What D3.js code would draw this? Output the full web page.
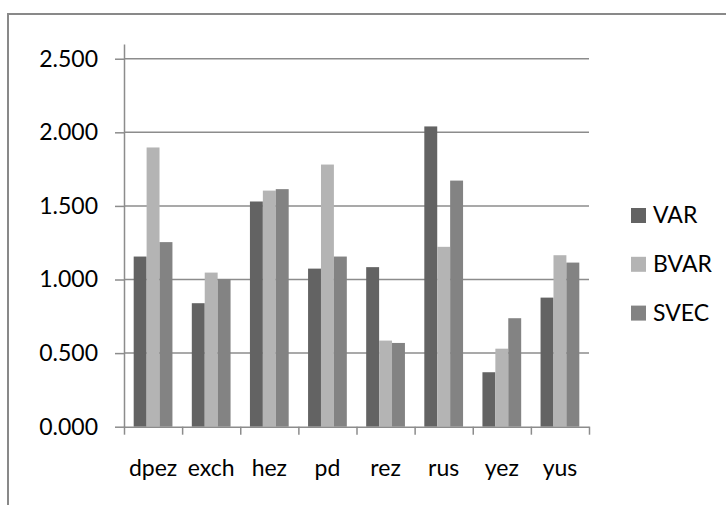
<!DOCTYPE html>
<html>
<head>
<meta charset="utf-8">
<script src="https://cdn.jsdelivr.net/npm/d3@7"></script>
<style>
    body { margin: 0; background: #fff; }
    svg text { font-family: Lato, "Open Sans", sans-serif; fill: #000; }
</style>
</head>
<body>
<svg id="chart" width="726" height="505"></svg>
<script>
// Forecast error comparison, grouped bars per variable.

var categories = ["dpez", "exch", "hez", "pd", "rez", "rus", "yez", "yus"];
var seriesNames = ["VAR", "BVAR", "SVEC"];
var varValues = [1.156, 0.839, 1.530, 1.074, 1.084, 2.040, 0.370, 0.877];
var bvarValues = [1.897, 1.047, 1.604, 1.781, 0.585, 1.222, 0.530, 1.165];
var svecValues = [1.254, 1.002, 1.614, 1.156, 0.569, 1.672, 0.737, 1.115];
var yTicks = [0, 0.5, 1.0, 1.5, 2.0, 2.5];
var colors = ["#636363", "#b4b4b4", "#838383"];

var fontSize = 23;
var svg = d3.select("#chart");

// Outer chart frame; its right and bottom edges run off the picture.
svg.append("rect")
    .attr("x", 8).attr("y", 14)
    .attr("width", 800).attr("height", 600)
    .attr("fill", "none")
    .attr("stroke", "#898989")
    .attr("stroke-width", 2);

var plot = { left: 124, right: 589, top: 44, bottom: 426.7 };

var y = d3.scaleLinear().domain([0, 2.6]).range([plot.bottom, plot.top]);
var x = d3.scaleBand().domain(categories).range([plot.left, plot.right]);
var xs = d3.scaleBand().domain(seriesNames)
    .range([0, x.bandwidth()])
    .paddingInner(0).paddingOuter(0.75);

// Gridlines first, bars go on top of them.
svg.append("g").selectAll("line").data(yTicks.slice(1)).join("line")
    .attr("x1", plot.left).attr("x2", plot.right)
    .attr("y1", function (d) { return y(d); })
    .attr("y2", function (d) { return y(d); })
    .attr("stroke", "#8c8c8c")
    .attr("stroke-width", 1.5);

var allValues = [varValues, bvarValues, svecValues];
var rows = [];
var i, j;
for (i = 0; i < categories.length; i++) {
    for (j = 0; j < seriesNames.length; j++) {
        rows.push({ cat: categories[i], series: seriesNames[j], value: allValues[j][i], k: j });
    }
}

svg.append("g").selectAll("rect").data(rows).join("rect")
    .attr("x", function (d) { return x(d.cat) + xs(d.series); })
    .attr("y", function (d) { return y(d.value); })
    .attr("width", xs.bandwidth())
    .attr("height", function (d) { return y(0) - y(d.value); })
    .attr("fill", function (d) { return colors[d.k]; });

// Y axis: line, outward ticks, labels.
var yAxis = svg.append("g")
    .attr("transform", "translate(" + plot.left + ",0)")
    .call(d3.axisLeft(y).tickValues(yTicks).tickFormat(d3.format(".3f"))
        .tickSize(9).tickSizeOuter(0).tickPadding(17));
yAxis.selectAll("path, line").attr("stroke", "#8c8c8c").attr("stroke-width", 1.5);
yAxis.selectAll("text").attr("font-size", fontSize).attr("fill", "#000");

// X axis: ticks sit on the category boundaries.
var xEdges = d3.scaleLinear().domain([0, categories.length]).range([plot.left, plot.right]);
var xAxis = svg.append("g")
    .attr("transform", "translate(0," + plot.bottom + ")")
    .call(d3.axisBottom(xEdges).tickValues(d3.range(categories.length + 1))
        .tickFormat("").tickSize(8).tickSizeOuter(0));
xAxis.selectAll("path, line").attr("stroke", "#8c8c8c").attr("stroke-width", 1.5);

var xLabels = svg.append("g")
    .attr("transform", "translate(0," + plot.bottom + ")")
    .call(d3.axisBottom(x).tickSize(0).tickPadding(32.5));
xLabels.select(".domain").remove();
xLabels.selectAll("text").attr("font-size", fontSize).attr("fill", "#000");

// Legend
var legend = svg.append("g").selectAll("g").data(seriesNames).join("g")
    .attr("transform", function (d, k) { return "translate(631," + (208 + k * 48.8) + ")"; });
legend.append("rect")
    .attr("width", 15).attr("height", 15)
    .attr("fill", function (d, k) { return colors[k]; });
legend.append("text")
    .attr("x", 22).attr("y", 15)
    .attr("font-size", fontSize)
    .text(function (d) { return d; });
</script>
</body>
</html>
